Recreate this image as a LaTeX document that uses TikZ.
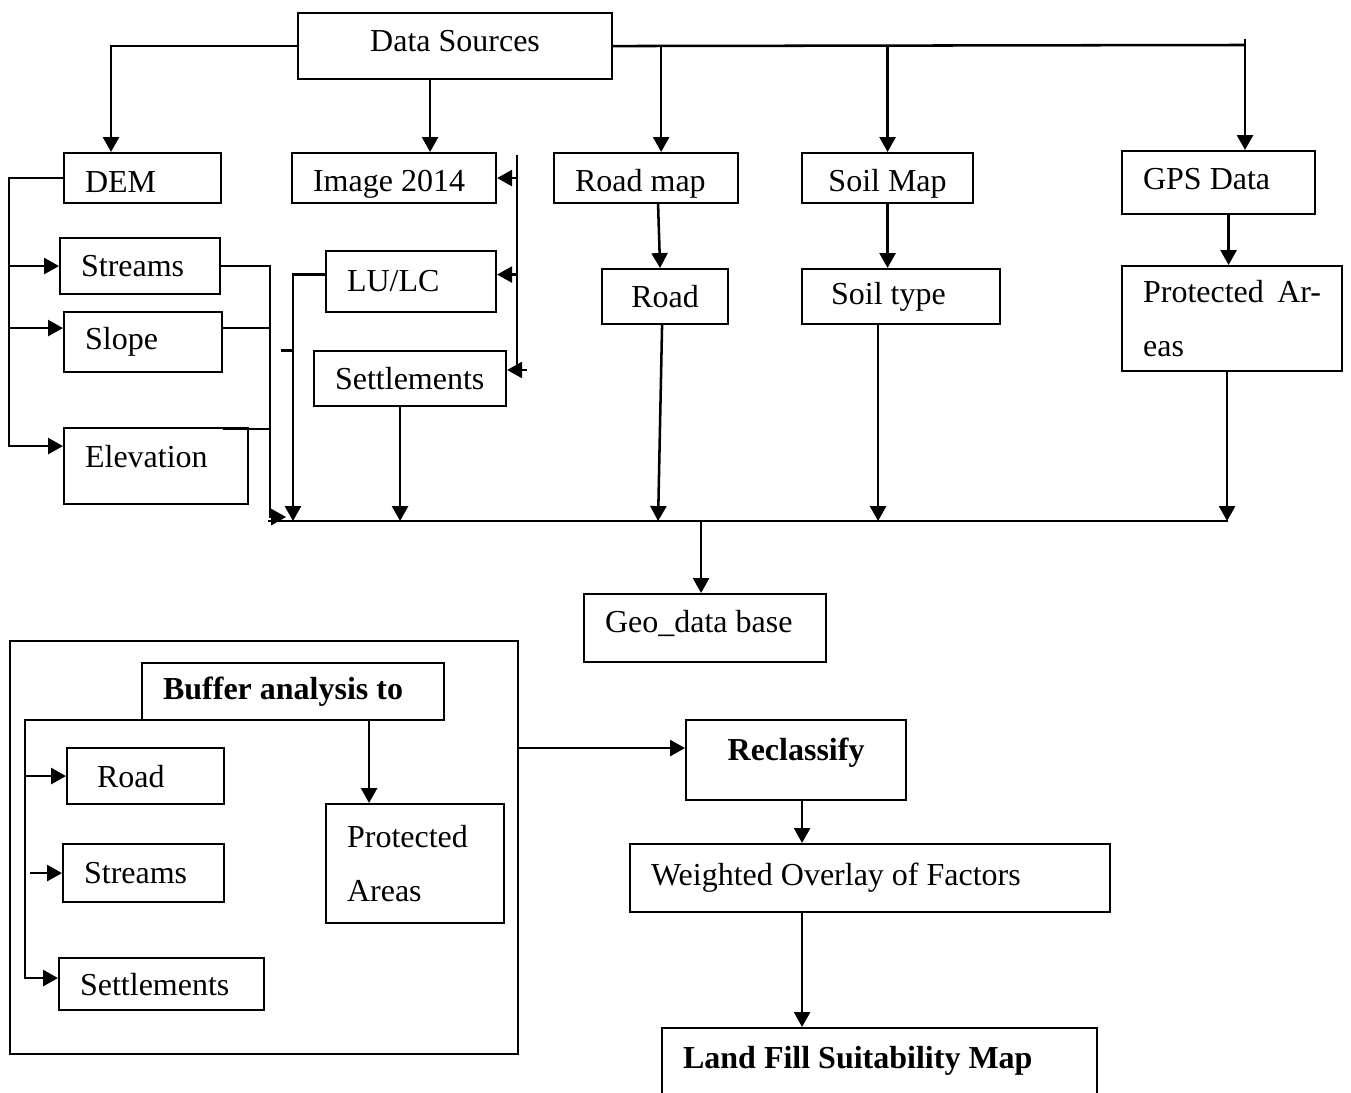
\documentclass[tikz,border=0pt]{standalone}
\usepackage{fontspec}
\setmainfont{Liberation Serif}
\usetikzlibrary{arrows.meta,calc}
\hyphenpenalty=10000

\begin{document}
\begin{tikzpicture}[x=0.375pt,y=-0.375pt,line width=0.95pt,>={Triangle[length=5.6pt,width=6pt]},
  box/.style={draw,line width=0.8pt,anchor=north west,inner xsep=7.875pt,inner ysep=0pt,align=left,font=\fontsize{12}{14.5}\selectfont,execute at begin node={\spaceskip=3pt\relax}},
  cbox/.style={box,align=center},
  bbox/.style={box,font=\fontsize{12}{14.5}\selectfont\bfseries}]
\useasboundingbox (0,0) rectangle (1351,1093);

\node[cbox,minimum width=117.75pt,minimum height=24.75pt,text height=8.2pt,text depth=3.8pt] (ds) at (297,12) {Data Sources};

\node[box,text width=43.125pt,minimum height=18.75pt,text height=10.9pt,text depth=0pt] (dem) at (63,152) {DEM};
\node[box,text width=60.75pt,minimum height=18.75pt,text height=9.8pt,text depth=0pt] (img) at (291,152) {Image 2014};
\node[box,text width=53.25pt,minimum height=18.75pt,text height=10.1pt,text depth=0pt] (rm) at (553,152) {Road map};
\node[cbox,minimum width=64.125pt,minimum height=18.75pt,text height=10.1pt,text depth=0pt] (sm) at (801,152) {Soil Map};
\node[box,text width=56.625pt,minimum height=23.625pt,text height=8.2pt,text depth=3pt] (gps) at (1121,150) {GPS Data};

\node[box,text width=44.25pt,minimum height=21pt] (st) at (59,237) {Streams};
\node[box,text width=43.5pt,minimum height=22.5pt] (sl) at (63,311) {Slope};
\node[box,text width=53.25pt,minimum height=28.5pt,text height=8.2pt,text depth=6.8pt] (el) at (63,427) {Elevation};
\node[box,text width=48pt,minimum height=22.875pt] (lu) at (325,250) {LU/LC};
\node[box,text width=56.25pt,minimum height=20.625pt] (se) at (313,350) {Settlements};
\node[cbox,minimum width=47.25pt,minimum height=20.625pt] (rd) at (601,268) {Road};
\node[box,inner xsep=10.875pt,text width=52.5pt,minimum height=20.625pt] (so) at (801,268) {Soil type};
\node[box,text width=66.75pt,minimum height=39.375pt] (pa) at (1121,265) {Protected\hfill Ar-\\[6pt]eas};
\node[box,text width=75pt,minimum height=25.5pt,text height=8.2pt,text depth=5pt] (geo) at (583,593) {Geo\_data base};

\node[draw,line width=0.8pt,anchor=north west,minimum width=190.5pt,minimum height=154.875pt,inner sep=0pt] (grp) at (9,640) {};
\node[bbox,text width=97.5pt,minimum height=21.375pt] (bu) at (141,662) {Buffer analysis to};
\node[box,inner xsep=11.25pt,text width=36.375pt,minimum height=21pt] (rdb) at (66,747) {Road};
\node[box,text width=44.625pt,minimum height=21.75pt] (stb) at (62,843) {Streams};
\node[box,text width=61.125pt,minimum height=19.5pt] (seb) at (58,957) {Settlements};
\node[box,text width=51pt,minimum height=44.625pt] (pb) at (325,803) {Protected\\[6pt]Areas};

\node[bbox,align=center,minimum width=82.5pt,minimum height=30pt,text height=8.2pt,text depth=7.8pt] (rc) at (685,719) {Reclassify};
\node[box,text width=164.25pt,minimum height=25.5pt] (wo) at (629,843) {Weighted Overlay of Factors};
\node[bbox,text width=147.375pt,minimum height=27.375pt,text height=8.2pt,text depth=5.6pt] (lf) at (661,1027) {Land Fill Suitability Map};

\draw[->] (ds.west) -| ($(dem.north west)+(48,0)$);
\draw[->] ($(ds.south)+(-25,0)$) coordinate (a) -- (a |- img.north);
\coordinate (rt) at (1245,45);
\draw (ds.east) -- (rt);
\draw[->] ($(rt)+(0,-6)$) -- (rt |- gps.north);
\draw[->] ($(ds.east)+(48,0)$) coordinate (a) -- (a |- rm.north);
\draw[->] (ds.east -| sm.north) -- (sm.north);

\draw[->] (dem.west) -- ++(-54,0) coordinate (dl) |- ($(el.west)+(0,-20)$);
\draw[->] (dl |- st.west) -- (st.west);
\coordinate (slin) at ($(sl.west)+(0,-14)$);
\draw[->] (dl |- slin) -- (slin);

\draw[->] (st.east) -- ++(49,0) coordinate (cl) -- ++(0,251) -- ++(16,0);
\draw (slin -| sl.east) -- (slin -| cl);
\draw ($(el.north east)+(-26,2)$) coordinate (a) -- (a -| cl);

\coordinate (bl) at (268,521);
\coordinate (br) at (1228,521);
\draw (bl) -- (br);

\draw[->] ($(lu.west)+(0,-7)$) -- ++(-32,0) coordinate (lul) -- (lul |- bl);
\draw ($(lul)+(-12,76)$) -- ++(12,0);

\coordinate (rb) at (517,155);
\coordinate (rb2) at (517,370);
\draw (rb) -- (rb2) -- ++(10,0);
\draw[->] (rb |- img.east) -- (img.east);
\coordinate (luin) at ($(lu.east)+(0,-7)$);
\draw[->] (rb |- luin) -- (luin);
\draw[->] (rb2) -- (rb2 -| se.east);

\draw[->] ($(se.south)+(-10,0)$) coordinate (a) -- (a |- bl);
\draw[->] ($(rm.south)+(12,0)$) -- ($(rd.north)+(-5,0)$);
\draw[->] ($(rd.south)+(-3,0)$) -- ($(rd.south |- bl)+(-7,0)$);
\draw[->] (sm.south) -- (sm.south |- so.north);
\draw[->] ($(so.south)+(-23,0)$) coordinate (a) -- (a |- bl);
\draw[->] ($(gps.south)+(10,0)$) coordinate (a) -- (a |- pa.north);
\draw[->] ($(pa.south)+(-5,0)$) coordinate (a) -- (a |- bl);
\draw[->] ($(geo.north |- bl)+(-4,0)$) coordinate (a) -- (a |- geo.north);

\draw[->] ($(bu.south west)+(0,-1)$) -- ++(-116,0) coordinate (bl2) |- ($(seb.west)+(0,-6)$);
\draw[->] (bl2 |- rdb.west) -- (rdb.west);
\draw[->] ($(bl2 |- stb.west)+(5,0)$) -- (stb.west);
\draw[->] ($(bu.south)+(76,0)$) coordinate (a) -- (a |- pb.north);

\coordinate (rcin) at ($(rc.west)+(0,-12)$);
\draw[->] (grp.east |- rcin) -- (rcin);
\draw[->] ($(rc.south)+(6,0)$) coordinate (a) -- (a |- wo.north);
\draw[->] (a |- wo.south) -- (a |- lf.north);
\end{tikzpicture}
\end{document}
